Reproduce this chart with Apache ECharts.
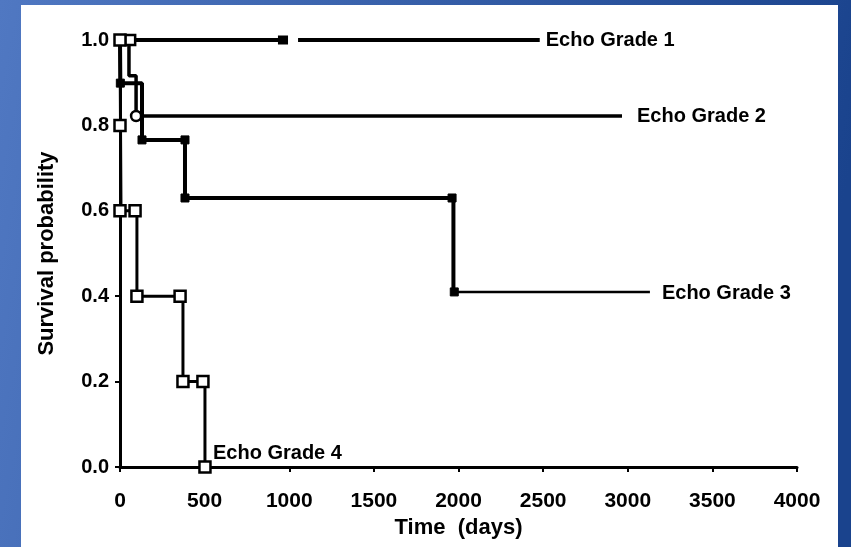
<!DOCTYPE html>
<html>
<head>
<meta charset="utf-8">
<script src="https://cdn.jsdelivr.net/npm/echarts@6/dist/echarts.min.js"></script>
<style>
html,body{margin:0;padding:0;width:851px;height:547px;overflow:hidden;}
#c{width:851px;height:547px;}
</style>
</head>
<body>
<div id="c"></div>
<script>
// ---- data (days, survival probability) ----
const xTicks = [0, 500, 1000, 1500, 2000, 2500, 3000, 3500, 4000];
const yTicks = [0.0, 0.2, 0.4, 0.6, 0.8, 1.0];

const grade1Line = [[0, 1.0], [990, 1.0], [990, '-'], [1052, 1.0], [2480, 1.0]];
const grade1Marks = [[60, 1.0]];
const grade1Censor = [[963, 1.0]];

const grade2Line = [[0, 1.0], [53, 0.916], [95, 0.822], [2966, 0.822]];
const grade2Marks = [[95, 0.822]];

const grade3Line = [[0, 1.0], [2, 0.899], [130, 0.766], [384, 0.63], [1970, 0.41]];
const grade3Tail = [[1970, 0.41], [3131, 0.41]];
const grade3Marks = [[2, 0.899], [130, 0.766], [384, 0.766], [384, 0.63], [1962, 0.63], [1975, 0.41]];

const grade4Line = [[0, 1.0], [3, 0.8], [6, 0.6], [100, 0.4], [372, 0.2], [502, 0.0]];
const grade4Marks = [[0, 1.0], [0, 0.8], [0, 0.6], [89, 0.6], [100, 0.4], [355, 0.4], [372, 0.2], [490, 0.2], [502, 0.0]];

const FONT = 'Liberation Sans';

const chart = echarts.init(document.getElementById('c'), null, {renderer: 'canvas'});

function lineSeries(name, data, width, label) {
  const s = {
    name: name,
    type: 'line',
    data: data,
    step: 'end',
    symbol: 'none',
    lineStyle: {color: '#000', width: width},
    z: 3,
    animation: false
  };
  if (label) {
    s.endLabel = Object.assign({
      show: true,
      formatter: name,
      color: '#000',
      fontFamily: FONT,
      fontWeight: 'bold',
      fontSize: 20
    }, label);
  }
  return s;
}

function markSeries(name, data, symbol, size, fill, borderW) {
  return {
    name: name,
    type: 'scatter',
    data: data,
    symbol: symbol,
    symbolSize: size,
    itemStyle: {color: fill, borderColor: '#000', borderWidth: borderW, opacity: 1},
    emphasis: {disabled: true},
    z: 5,
    clip: false,
    animation: false
  };
}

const option = {
  animation: false,
  backgroundColor: new echarts.graphic.LinearGradient(0, 0, 1, 0.3, [
    {offset: 0, color: '#5078c2'},
    {offset: 1, color: '#1a438d'}
  ]),
  graphic: {
    elements: [{
      type: 'rect',
      left: 21, top: 5,
      shape: {width: 817, height: 560},
      style: {fill: '#ffffff'},
      silent: true,
      z: -100
    }]
  },
  grid: {left: 120, right: 54, top: 40, bottom: 80, containLabel: false},
  xAxis: {
    type: 'value',
    min: 0, max: 4000, interval: 500,
    name: 'Time  (days)',
    nameLocation: 'middle',
    nameGap: 48,
    nameTextStyle: {color: '#000', fontFamily: FONT, fontWeight: 'bold', fontSize: 22},
    axisLine: {show: true, lineStyle: {color: '#000', width: 3}},
    axisTick: {show: true, inside: false, length: 5, lineStyle: {color: '#000', width: 2}},
    axisLabel: {
      color: '#000', fontFamily: FONT, fontWeight: 'bold', fontSize: 21, margin: 24,
      formatter: v => (xTicks.indexOf(v) >= 0 ? String(v) : '')
    },
    splitLine: {show: false}
  },
  yAxis: {
    type: 'value',
    min: 0, max: 1, interval: 0.2,
    name: 'Survival probability',
    nameLocation: 'middle',
    nameRotate: 90,
    nameGap: 62,
    nameTextStyle: {color: '#000', fontFamily: FONT, fontWeight: 'bold', fontSize: 22},
    axisLine: {show: true, lineStyle: {color: '#000', width: 3}},
    axisTick: {show: true, inside: false, length: 5, lineStyle: {color: '#000', width: 2}},
    axisLabel: {
      color: '#000', fontFamily: FONT, fontWeight: 'bold', fontSize: 20, margin: 11,
      formatter: v => {
        const t = yTicks.find(y => Math.abs(y - v) < 1e-9);
        return t === undefined ? '' : t.toFixed(1);
      }
    },
    splitLine: {show: false}
  },
  series: [
    lineSeries('Echo Grade 1', grade1Line, 4, {distance: 6}),
    lineSeries('Echo Grade 2', grade2Line, 3.5, {distance: 15}),
    lineSeries('grade3', grade3Line, 4, null),
    lineSeries('Echo Grade 3', grade3Tail, 2.5, {distance: 12, offset: [0, 2]}),
    lineSeries('Echo Grade 4', grade4Line, 3, {distance: 8, offset: [0, -14]}),
    markSeries('g1marks', grade1Marks, 'rect', 10, '#fff', 2.5),
    markSeries('g1censor', grade1Censor, 'rect', [9, 8], '#000', 1),
    markSeries('g2marks', grade2Marks, 'circle', 10, '#fff', 2.5),
    markSeries('g3marks', grade3Marks, 'rect', 8, '#000', 1),
    markSeries('g4marks', grade4Marks, 'rect', 11, '#fff', 2.5)
  ]
};

chart.setOption(option);
</script>
</body>
</html>
